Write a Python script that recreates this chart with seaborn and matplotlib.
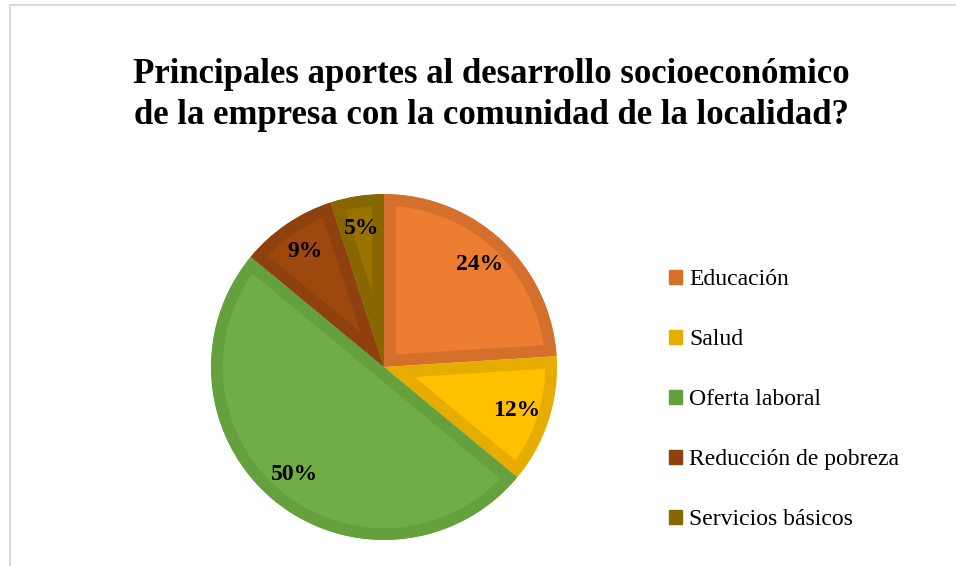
import matplotlib
matplotlib.use("Agg")
import matplotlib.pyplot as plt
from matplotlib.patches import Patch
from matplotlib.lines import Line2D
import seaborn as sns

categorias = ["Educación", "Salud", "Oferta laboral", "Reducción de pobreza", "Servicios básicos"]
porcentajes = [24, 12, 50, 9, 5]
colores = ["#ED7D31", "#FFC000", "#70AD47", "#9E480E", "#997300"]
bordes = ["#D5702C", "#E6AC00", "#65A03F", "#8E410D", "#896700"]

sns.set_theme(style="white")
plt.rcParams["font.family"] = ["Liberation Serif", "DejaVu Serif"]
plt.rcParams["text.color"] = "black"

fig = plt.figure(figsize=(9.56, 5.66), dpi=100)
ax = fig.add_axes([0.2207, 0.0459, 0.3619, 0.6113])

wedges, textos, pcts = ax.pie(
    porcentajes,
    colors=sns.color_palette(colores),
    startangle=90,
    counterclock=False,
    autopct="%1.0f%%",
    pctdistance=0.81,
    wedgeprops=dict(linewidth=17, joinstyle="miter"),
    textprops=dict(fontsize=17, fontweight="bold", color="black"),
)
# borde interior más oscuro (trazo recortado a la propia cuña)
for w, b in zip(wedges, bordes):
    w.set_edgecolor(b)
    w.set_clip_on(True)
    w.set_clip_path(w)
ax.set_xlim(-1, 1)
ax.set_ylim(-1, 1)
ax.set_aspect("equal")

fig.text(0.5136, 0.832, "Principales aportes al desarrollo socioeconómico\nde la empresa con la comunidad de la localidad?",
         ha="center", va="center", fontsize=25, fontweight="bold", linespacing=1.3)

handles = [Patch(facecolor=b, edgecolor=b) for b in bordes]
fig.legend(handles, categorias, loc="upper left", bbox_to_anchor=(0.69, 0.541),
           frameon=False, fontsize=17, handlelength=0.55, handleheight=0.55,
           handletextpad=0.3, labelspacing=1.65, borderaxespad=0)

# marco gris del área del gráfico
fig.add_artist(Line2D([10 / 956, 1], [1 - 5 / 566, 1 - 5 / 566], transform=fig.transFigure, color="#D9D9D9", lw=1.5))
fig.add_artist(Line2D([10 / 956, 10 / 956], [0, 1 - 5 / 566], transform=fig.transFigure, color="#D9D9D9", lw=1.5))

fig.savefig("out.png", dpi=100)
